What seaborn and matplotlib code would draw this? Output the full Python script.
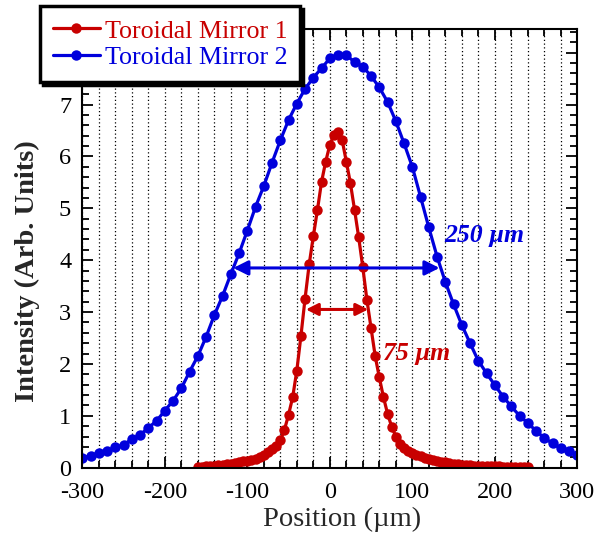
import numpy as np
import pandas as pd
import matplotlib
matplotlib.use("Agg")
import matplotlib.pyplot as plt
import seaborn as sns

# ---- data ----
series_names = ["Toroidal Mirror 1", "Toroidal Mirror 2"]

mirror1_x = list(range(-160, 241, 5))
mirror1_y = [0.02, 0.02, 0.03, 0.04, 0.04, 0.05, 0.06, 0.07, 0.08, 0.09,
             0.10, 0.12, 0.13, 0.15, 0.17, 0.21, 0.24, 0.30, 0.36, 0.42,
             0.53, 0.73, 1.02, 1.36, 1.87, 2.54, 3.26, 3.92, 4.46, 4.97,
             5.51, 5.90, 6.22, 6.42, 6.47, 6.31, 5.90, 5.48, 4.97, 4.44,
             3.86, 3.23, 2.69, 2.15, 1.74, 1.36, 1.04, 0.79, 0.60, 0.46,
             0.38, 0.32, 0.28, 0.25, 0.22, 0.18, 0.16, 0.14, 0.12, 0.11,
             0.10, 0.09, 0.08, 0.07, 0.06, 0.05, 0.05, 0.04, 0.04, 0.04,
             0.03, 0.03, 0.03, 0.03, 0.02, 0.02, 0.02, 0.02, 0.02, 0.01,
             0.01]

mirror2_x = list(range(-300, 301, 10))
mirror2_y = [0.19, 0.23, 0.28, 0.32, 0.39, 0.44, 0.55, 0.63, 0.77, 0.90,
             1.10, 1.29, 1.53, 1.85, 2.15, 2.52, 2.94, 3.31, 3.73, 4.13,
             4.57, 5.03, 5.43, 5.88, 6.31, 6.70, 7.02, 7.30, 7.52, 7.70,
             7.89, 7.95, 7.95, 7.82, 7.73, 7.55, 7.33, 7.05, 6.68, 6.25,
             5.80, 5.22, 4.63, 4.07, 3.58, 3.15, 2.75, 2.40, 2.06, 1.82,
             1.59, 1.37, 1.18, 1.00, 0.86, 0.71, 0.57, 0.47, 0.37, 0.32,
             0.24]

fwhm_labels = ["250 \u00b5m", "75 \u00b5m"]
fwhm2_span = [-117, 133]
fwhm2_level = 3.85
fwhm1_span = [-29, 46.5]
fwhm1_level = 3.05

x_ticks = [-300, -200, -100, 0, 100, 200, 300]
y_ticks = [0, 1, 2, 3, 4, 5, 6, 7, 8]

RED = "#C80000"
BLUE = "#0000DC"

df = pd.concat([
    pd.DataFrame({"Position": mirror1_x, "Intensity": mirror1_y, "Series": series_names[0]}),
    pd.DataFrame({"Position": mirror2_x, "Intensity": mirror2_y, "Series": series_names[1]}),
], ignore_index=True)

sns.set_style("ticks")
plt.rcParams["font.family"] = ["Liberation Serif", "DejaVu Serif"]
plt.rcParams["axes.unicode_minus"] = False

fig = plt.figure(figsize=(6.07, 5.34), dpi=100)
ax = fig.add_axes([0.1356, 0.1242, 0.8155, 0.8209])

sns.lineplot(data=df, x="Position", y="Intensity", hue="Series",
             palette={series_names[0]: RED, series_names[1]: BLUE},
             marker="o", markersize=7.5, markeredgewidth=0, linewidth=2.3,
             sort=False, estimator=None, ax=ax)

ax.set_xlim(-300, 300)
ax.set_ylim(0, 8.45)
ax.set_xticks(x_ticks)
ax.set_yticks(y_ticks)
ax.set_xticks(np.arange(-300, 301, 20), minor=True)
ax.set_yticks(np.arange(0, 8.41, 0.2), minor=True)
ax.tick_params(which="both", direction="in", top=True, right=True,
               labelsize=17.5, width=1.3, colors="black")
ax.tick_params(axis="x", which="major", pad=10)
ax.tick_params(axis="y", which="major", pad=8)
ax.tick_params(which="major", length=8)
ax.tick_params(which="minor", length=5)
for s in ax.spines.values():
    s.set_linewidth(1.5)
    s.set_color("black")

ax.grid(False)
ax.xaxis.grid(True, which="minor", linestyle=(0, (1, 2)), color="black", linewidth=0.9)
ax.xaxis.grid(True, which="major", linestyle=(0, (1, 2)), color="black", linewidth=0.9)
ax.set_axisbelow(True)

ax.set_xlabel("Position (\u00b5m)", fontsize=20.5)
ax.set_ylabel("Intensity (Arb. Units)", fontsize=20.5, fontweight="bold")
ax.xaxis.set_label_coords(0.524, -0.117)
ax.yaxis.set_label_coords(-0.11, 0.449)
ax.xaxis.label.set_va("center")
ax.yaxis.label.set_va("center")

# FWHM arrows
ax.annotate("", xy=(fwhm2_span[0], fwhm2_level), xytext=(fwhm2_span[1], fwhm2_level),
            arrowprops=dict(arrowstyle="<|-|>", color=BLUE, lw=2.2,
                            mutation_scale=22, shrinkA=0, shrinkB=0), zorder=5)
ax.annotate("", xy=(fwhm1_span[0], fwhm1_level), xytext=(fwhm1_span[1], fwhm1_level),
            arrowprops=dict(arrowstyle="<|-|>", color=RED, lw=2.2,
                            mutation_scale=18, shrinkA=0, shrinkB=0), zorder=5)
ax.text(139, 4.48, fwhm_labels[0], color=BLUE, fontsize=18.5, fontstyle="italic",
        fontweight="bold", va="center", ha="left")
ax.text(64, 2.21, fwhm_labels[1], color=RED, fontsize=18.5, fontstyle="italic",
        fontweight="bold", va="center", ha="left")

# legend
handles, labels = ax.get_legend_handles_labels()
ax.get_legend().remove()
leg = fig.legend(handles, labels, loc="upper left", bbox_to_anchor=(0.066, 0.988),
                 frameon=True, fancybox=False, fontsize=18.7, handlelength=1.8,
                 handletextpad=0.2, borderpad=0.5, labelspacing=0.12,
                 borderaxespad=0, shadow={"color": "black", "alpha": 1})
leg.get_frame().set_edgecolor("black")
leg.get_frame().set_linewidth(2.5)
leg.get_frame().set_facecolor("white")
for text, c in zip(leg.get_texts(), [RED, BLUE]):
    text.set_color(c)

fig.savefig("out.png", dpi=100)
